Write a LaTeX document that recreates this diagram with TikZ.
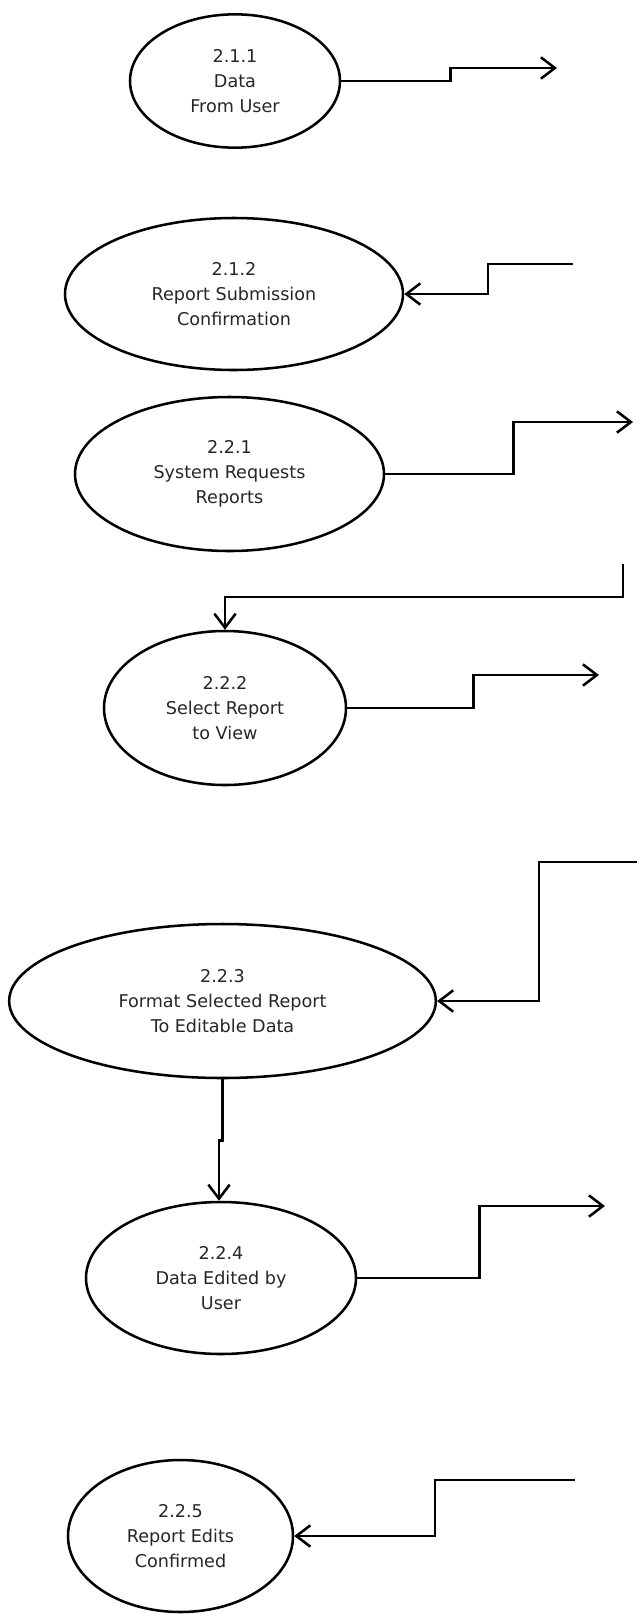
\documentclass[tikz,border=0pt]{standalone}
\usepackage{fontspec}
\setmainfont{DejaVu Sans}
\usetikzlibrary{arrows.meta,shapes.geometric}
\tikzset{
  proc/.style={draw=black, line width=1.9pt, ellipse, inner sep=0pt, align=center,
    font=\fontsize{13.2pt}{18.6pt}\selectfont, text=black!85},
  flow/.style={draw=black, line width=1.9pt, -{Straight Barb[length=10.5pt,width=16pt,line width=1.9pt]}}
}
\begin{document}
\begin{tikzpicture}[x=0.75pt,y=-0.75pt]
\useasboundingbox (0,0) rectangle (637,1614);
\node[proc, minimum width=157.5pt, minimum height=100pt] (p211) at (235,81) {2.1.1\\Data\\From User};
\node[proc, minimum width=253.5pt, minimum height=114pt] (p212) at (234,294) {2.1.2\\Report Submission\\Confirmation};
\node[proc, minimum width=231.75pt, minimum height=115.5pt] (p221) at (229.5,474) {2.2.1\\System Requests\\Reports};
\node[proc, minimum width=181.5pt, minimum height=115.5pt] (p222) at (225,708) {2.2.2\\Select Report\\to View};
\node[proc, minimum width=320pt, minimum height=115.5pt] (p223) at (222.5,1001) {2.2.3\\Format Selected Report\\To Editable Data};
\node[proc, minimum width=202.5pt, minimum height=114pt] (p224) at (221,1278) {2.2.4\\Data Edited by\\User};
\node[proc, minimum width=168.75pt, minimum height=114pt] (p225) at (180.5,1536) {2.2.5\\Report Edits\\Confirmed};

\coordinate (e211) at (557,68);
\coordinate (s212) at (573,264);
\coordinate (e221) at (633,422);
\coordinate (s222) at (623,564);
\coordinate (e222) at (599,675);
\coordinate (s223) at (637,862);
\coordinate (e224) at (605,1206);
\coordinate (s225) at (575,1480);

\draw[flow] (p211.east) -- ++(109,0) |- (e211);
\draw[flow] (s212) -- ++(-85,0) |- (p212.east);
\draw[flow] (p221.east) -- ++(128,0) |- (e221);
\draw[flow] (s222) -- ++(0,33) -| (p222.north);
\draw[flow] (p222.east) -- ++(126,0) |- (e222);
\draw[flow] (s223) -- ++(-98,0) |- (p223.east);
\draw[flow] (p223.south) -- ++(0,61) -| ([xshift=-1.5pt]p224.north);
\draw[flow] (p224.east) -- ++(122,0) |- (e224);
\draw[flow] (s225) -- ++(-140,0) |- (p225.east);
\end{tikzpicture}
\end{document}
